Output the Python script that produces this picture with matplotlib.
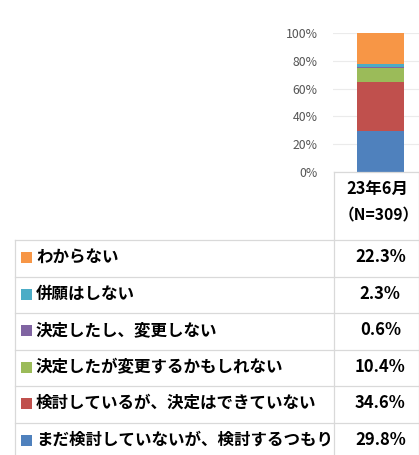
import matplotlib
matplotlib.use("Agg")
import matplotlib.pyplot as plt
from matplotlib.patches import Rectangle

plt.rcParams['font.family'] = ['Noto Sans CJK JP', 'DejaVu Sans']

# ---- data ----
period = ['23年6月']
header_lines = ['23年6月', '（N=309）']
# bottom -> top stacking order
labels = ['まだ検討していないが、検討するつもり',
          '検討しているが、決定はできていない',
          '決定したが変更するかもしれない',
          '決定したし、変更しない',
          '併願はしない',
          'わからない']
values = [29.8, 34.6, 10.4, 0.6, 2.3, 22.3]
colors = ['#4F81BD', '#C0504D', '#9BBB59', '#8064A2', '#4BACC6', '#F79646']
yticks = [0, 20, 40, 60, 80, 100]
ytick_labels = ['0%', '20%', '40%', '60%', '80%', '100%']

W, H = 419, 455
fig = plt.figure(figsize=(W / 100, H / 100), dpi=100)

# ---- bar chart axes ----
ax_l, ax_r, ax_t, ax_b = 333, 419, 33, 172
ax = fig.add_axes([ax_l / W, 1 - ax_b / H, (ax_r - ax_l) / W, (ax_b - ax_t) / H])
bottom = 0
for v, c in zip(values, colors):
    ax.bar([0], [v], bottom=bottom, width=0.6, color=c, edgecolor='none', zorder=3)
    bottom += v
ax.set_xlim(-0.6065, 0.4918)
ax.set_ylim(0, 100)
ax.set_yticks(yticks)
ax.set_yticklabels(ytick_labels, fontsize=8.8, color='#555555')
ax.tick_params(axis='y', length=0, pad=11)
ax.set_xticks([])
ax.grid(axis='y', color='#EBEBEB', linewidth=0.8, zorder=0)
for s in ax.spines.values():
    s.set_visible(False)

# ---- table (pixel coordinates) ----
tab = fig.add_axes([0, 0, 1, 1])
tab.set_xlim(0, W)
tab.set_ylim(H, 0)
tab.axis('off')
lc = '#D9D9D9'
lw = 0.9
x_left, x_div, x_right = 15, 334, 418.5
y_head_top = 172
row_lines = [240, 277, 313, 350, 386, 423, 460]
# header cell borders
tab.plot([x_div, x_right], [y_head_top, y_head_top], color=lc, lw=lw)
tab.plot([x_right, x_right], [y_head_top, H], color=lc, lw=lw)
tab.plot([x_div, x_div], [y_head_top, H], color=lc, lw=lw)
tab.plot([x_left, x_left], [row_lines[0], H], color=lc, lw=lw)
for y in row_lines[:-1]:
    tab.plot([x_left, x_right], [y, y], color=lc, lw=lw)

x_center = (x_div + x_right) / 2
tab.text(x_center + 1, 189, header_lines[0], ha='center', va='center',
         fontsize=11.8, fontweight='bold', color='#000000')
tab.text(x_center + 2, 215, header_lines[1], ha='center', va='center',
         fontsize=11.3, fontweight='bold', color='#000000')

# rows top -> bottom (reverse of stacking)
for i, (lab, v, c) in enumerate(zip(labels[::-1], values[::-1], colors[::-1])):
    y0 = row_lines[i]
    yc = y0 + 17
    tab.add_patch(Rectangle((21, yc - 5), 10.5, 10.5, color=c, lw=0))
    tab.text(36, yc, lab, ha='left', va='center', fontsize=11.9,
             fontweight='bold', color='#000000')
    tab.text(x_center + 4, yc, f'{v:.1f}%', ha='center', va='center',
             fontsize=12, fontweight='bold', color='#000000')

fig.savefig('out.png', dpi=100)
